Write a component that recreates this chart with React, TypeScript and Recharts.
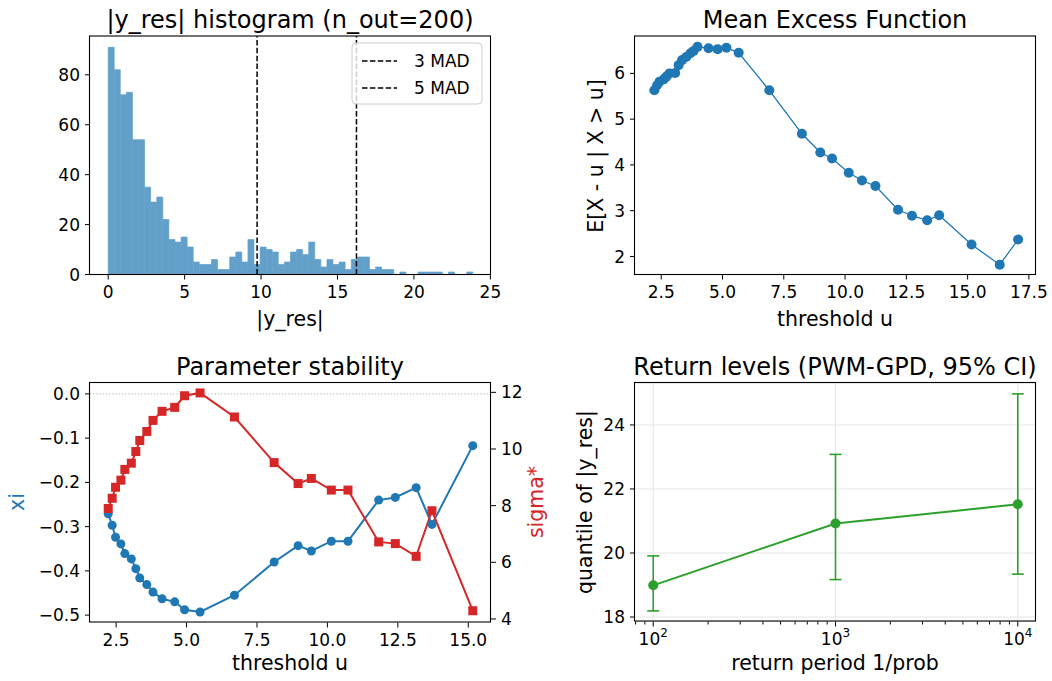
import React from 'react';
import {
  ComposedChart,
  Bar,
  Line,
  XAxis,
  YAxis,
  ReferenceLine,
  ErrorBar,
  CartesianGrid,
} from 'recharts';

const FONT = '"DejaVu Sans", Verdana, sans-serif';
const BLUE = '#1f77b4';
const BLUE_70 = '#62a0ca'; // tab:blue at alpha 0.7 on white
const RED = '#d62728';
const GREEN = '#2ca02c';

// |y_res| histogram: 60 equal bins starting at 0
const histBinWidth = 0.3975;
const histCounts = [
  91, 82, 72, 73, 54, 54, 35, 29, 31, 22, 14, 13, 15, 11, 5, 4, 4, 6, 2, 2,
  7, 9, 5, 14, 4, 11, 10, 9, 4, 5, 9, 10, 8, 13, 6, 3, 6, 4, 5, 2,
  6, 7, 7, 2, 3, 2, 2, 0, 1, 0, 0, 1, 1, 1, 1, 0, 1, 0, 0, 1,
];
const histXTicks = [0, 5, 10, 15, 20, 25];
const histYTicks = [0, 20, 40, 60, 80];
const madCuts = [9.74, 16.24];
const madNames = ['3 MAD', '5 MAD'];

// mean excess function
const meThresholds = [
  2.22, 2.33, 2.43, 2.6, 2.71, 2.84, 3.07, 3.21, 3.35, 3.52, 3.69, 3.82, 3.98, 4.43, 4.8, 5.16,
  5.66, 6.91, 8.24, 8.99, 9.47, 10.15, 10.69, 11.24, 12.16, 12.73, 13.35, 13.84, 15.16, 16.31, 17.06,
];
const meValues = [
  5.63, 5.74, 5.82, 5.87, 5.93, 6.0, 6.01, 6.18, 6.29, 6.36, 6.44, 6.49, 6.58, 6.55, 6.53, 6.56,
  6.45, 5.63, 4.68, 4.27, 4.14, 3.83, 3.66, 3.54, 3.02, 2.89, 2.79, 2.9, 2.26, 1.82, 2.37,
];
const meXTicks = [2.5, 5, 7.5, 10, 12.5, 15, 17.5];
const meYTicks = [2, 3, 4, 5, 6];

// parameter stability
const psThresholds = [
  2.22, 2.36, 2.48, 2.67, 2.81, 3.04, 3.2, 3.34, 3.59, 3.81, 4.13, 4.58, 4.93, 5.48, 6.7, 8.11,
  8.96, 9.43, 10.14, 10.73, 11.82, 12.41, 13.15, 13.71, 15.16,
];
const psXi = [
  -0.271, -0.297, -0.324, -0.339, -0.361, -0.373, -0.395, -0.416, -0.431, -0.448, -0.463, -0.47,
  -0.488, -0.493, -0.455, -0.38, -0.343, -0.355, -0.333, -0.333, -0.24, -0.234, -0.212, -0.295, -0.117,
];
const psSigma = [
  7.9, 8.26, 8.65, 8.9, 9.28, 9.5, 9.91, 10.3, 10.62, 11.01, 11.33, 11.47, 11.88, 11.98, 11.13, 9.52,
  8.78, 8.96, 8.55, 8.55, 6.72, 6.66, 6.21, 7.82, 4.29,
];
const psXTicks = [2.5, 5, 7.5, 10, 12.5, 15];
const psXiTicks = [0, -0.1, -0.2, -0.3, -0.4, -0.5];
const psSigmaTicks = [4, 6, 8, 10, 12];

// return levels
const rlPeriods = [100, 1000, 10000];
const rlLevels = [18.99, 20.92, 21.52];
const rlLower = [18.19, 19.17, 19.34];
const rlUpper = [19.91, 23.08, 24.97];
const rlMajorTicks = [100, 1000, 10000];
const rlMinorTicks = [
  80, 90, 200, 300, 400, 500, 600, 700, 800, 900,
  2000, 3000, 4000, 5000, 6000, 7000, 8000, 9000,
];
const rlYTicks = [18, 20, 22, 24];

// plot boxes (page pixels)
const BOX = {
  hist: { x: 89.5, y: 36, w: 401, h: 238.5 },
  me: { x: 634.5, y: 36, w: 401, h: 238.5 },
  ps: { x: 89.5, y: 382.5, w: 401, h: 239.5 },
  rl: { x: 634.5, y: 382.5, w: 401, h: 238.5 },
};

const YW = 80;
const RW = 60;
const RPAD = 24;
const MT = 6;
const XH = 40;
const TICK_SIZE = 5;
const X_MARGIN = 6;
const TICK = { fontSize: 17, fill: '#000', fontFamily: FONT };

const histData = histCounts.map((c, i) => ({ x: (i + 0.5) * histBinWidth, count: c }));
const meData = meThresholds.map((u, i) => ({ u, v: meValues[i] }));
const psData = psThresholds.map((u, i) => ({ u, xi: psXi[i], sigma: psSigma[i] }));
const rlData = rlPeriods.map((p, i) => ({
  p,
  level: rlLevels[i],
  ci: [rlLevels[i] - rlLower[i], rlUpper[i] - rlLevels[i]],
}));

const fmt1 = (v: number) => (v < 0 ? '\u2212' : '') + Math.abs(v).toFixed(1);

function Slot({ box, right = 0, children }: any) {
  const r = right || RPAD;
  return (
    <div style={{ position: 'absolute', left: box.x - YW, top: box.y - MT }}>
      {React.cloneElement(children, {
        width: YW + box.w + r,
        height: MT + box.h + XH,
        margin: { top: MT, right: right ? 0 : RPAD, bottom: 0, left: 0 },
      })}
    </div>
  );
}

function LogTick(props: any) {
  const { x, y, payload } = props;
  const v = payload.value;
  const major = rlMajorTicks.includes(v);
  const y0 = y - TICK_SIZE - X_MARGIN;
  return (
    <g>
      <line x1={x} x2={x} y1={y0} y2={y0 + (major ? TICK_SIZE : 3)} stroke="#000" strokeWidth={1} />
      {major && (
        <text x={x} y={y} dy="0.71em" textAnchor="middle" fontSize={17} fontFamily={FONT} fill="#000">
          10
          <tspan dy={-8} fontSize={12}>
            {Math.round(Math.log10(v))}
          </tspan>
        </text>
      )}
    </g>
  );
}

const SquareDot = (p: any) => (
  <rect key={`sq-${p.index}`} x={p.cx - 4.5} y={p.cy - 4.5} width={9} height={9} fill={RED} />
);

const axisCommon = {
  axisLine: false,
  tickSize: TICK_SIZE,
  tick: TICK,
  interval: 0 as const,
  allowDataOverflow: true,
  tickLine: { stroke: '#000' },
};

export default function App() {
  return (
    <div style={{ position: 'absolute', left: 0, top: 0, width: 1052, height: 681, background: '#fff' }}>
      {/* histogram */}
      <Slot box={BOX.hist}>
        <ComposedChart data={histData} barCategoryGap={0} barGap={0}>
          <XAxis
            {...axisCommon}
            dataKey="x"
            type="number"
            domain={[-1.19, 25.04]}
            ticks={histXTicks}
            height={XH}
            tickMargin={X_MARGIN}
          />
          <YAxis {...axisCommon} type="number" domain={[0, 95.55]} ticks={histYTicks} width={YW} tickMargin={5} />
          <Bar dataKey="count" fill={BLUE_70} stroke={BLUE_70} strokeWidth={0.7} isAnimationActive={false} />
          {madCuts.map((c) => (
            <ReferenceLine key={c} x={c} stroke="#000" strokeWidth={1.5} strokeDasharray="5.5 2.4" />
          ))}
        </ComposedChart>
      </Slot>

      {/* mean excess */}
      <Slot box={BOX.me}>
        <ComposedChart data={meData}>
          <XAxis
            {...axisCommon}
            dataKey="u"
            type="number"
            domain={[1.43, 17.79]}
            ticks={meXTicks}
            tickFormatter={fmt1}
            height={XH}
            tickMargin={X_MARGIN}
          />
          <YAxis {...axisCommon} type="number" domain={[1.606, 6.817]} ticks={meYTicks} width={YW} tickMargin={5} />
          <Line
            dataKey="v"
            stroke={BLUE}
            strokeWidth={1.3}
            dot={{ r: 5, fill: BLUE, stroke: 'none' }}
            activeDot={false}
            isAnimationActive={false}
          />
        </ComposedChart>
      </Slot>

      {/* parameter stability */}
      <Slot box={BOX.ps} right={RW}>
        <ComposedChart data={psData}>
          <XAxis
            {...axisCommon}
            dataKey="u"
            type="number"
            domain={[1.573, 15.807]}
            ticks={psXTicks}
            tickFormatter={fmt1}
            height={XH}
            tickMargin={X_MARGIN}
          />
          <YAxis
            {...axisCommon}
            yAxisId="xi"
            type="number"
            domain={[-0.5167, 0.0246]}
            ticks={psXiTicks}
            tickFormatter={fmt1}
            width={YW}
            tickMargin={5}
          />
          <YAxis
            {...axisCommon}
            yAxisId="sig"
            orientation="right"
            type="number"
            domain={[3.875, 12.33]}
            ticks={psSigmaTicks}
            width={RW}
            tickMargin={5}
          />
          <ReferenceLine yAxisId="xi" y={0} stroke="#999" strokeWidth={0.8} strokeDasharray="1.2 2" />
          <Line
            yAxisId="xi"
            dataKey="xi"
            stroke={BLUE}
            strokeWidth={2}
            dot={{ r: 4.5, fill: BLUE, stroke: 'none' }}
            activeDot={false}
            isAnimationActive={false}
          />
          <Line
            yAxisId="sig"
            dataKey="sigma"
            stroke={RED}
            strokeWidth={2}
            dot={SquareDot}
            activeDot={false}
            isAnimationActive={false}
          />
        </ComposedChart>
      </Slot>

      {/* return levels */}
      <Slot box={BOX.rl}>
        <ComposedChart data={rlData}>
          <CartesianGrid stroke="#e5e5e5" strokeWidth={1} verticalValues={rlMajorTicks} />
          <XAxis
            {...axisCommon}
            dataKey="p"
            type="number"
            scale="log"
            domain={[79.43, 12589.25]}
            ticks={[...rlMajorTicks, ...rlMinorTicks]}
            tick={<LogTick />}
            tickLine={false}
            height={XH}
            tickMargin={X_MARGIN}
          />
          <YAxis {...axisCommon} type="number" domain={[17.86, 25.31]} ticks={rlYTicks} width={YW} tickMargin={5} />
          <Line
            dataKey="level"
            stroke={GREEN}
            strokeWidth={2}
            dot={{ r: 5, fill: GREEN, stroke: 'none' }}
            activeDot={false}
            isAnimationActive={false}
          >
            <ErrorBar dataKey="ci" direction="y" width={6} stroke={GREEN} strokeWidth={1.6} />
          </Line>
        </ComposedChart>
      </Slot>

      {/* frames, titles, labels, legend */}
      <svg
        width={1052}
        height={681}
        style={{ position: 'absolute', left: 0, top: 0, pointerEvents: 'none' }}
        fontFamily={FONT}
      >
        {Object.values(BOX).map((b, i) => (
          <rect key={i} x={b.x} y={b.y} width={b.w} height={b.h} fill="none" stroke="#000" strokeWidth={1.1} />
        ))}

        <g fontSize={24} textAnchor="middle" fill="#000">
          <text x={290} y={28}>|y_res| histogram (n_out=200)</text>
          <text x={835} y={28}>Mean Excess Function</text>
          <text x={290} y={374.5}>Parameter stability</text>
          <text x={835} y={374.5}>Return levels (PWM-GPD, 95% CI)</text>
        </g>

        <g fontSize={20.5} textAnchor="middle" fill="#000">
          <text x={290} y={326}>|y_res|</text>
          <text x={835} y={326}>threshold u</text>
          <text x={290} y={670}>threshold u</text>
          <text x={835} y={670}>return period 1/prob</text>
          <text transform="translate(603,156) rotate(-90)">E[X - u | X &gt; u]</text>
          <text transform="translate(592,502) rotate(-90)">quantile of |y_res|</text>
          <text transform="translate(23.5,502) rotate(-90)" fill={BLUE}>xi</text>
          <text transform="translate(543,502) rotate(-90)" fill={RED}>sigma*</text>
        </g>

        <rect x={352} y={43} width={130} height={61} rx={4} fill="#fff" fillOpacity={0.8} stroke="#cccccc" />
        {madNames.map((name, i) => (
          <g key={name}>
            <line
              x1={362}
              x2={397}
              y1={61 + i * 27}
              y2={61 + i * 27}
              stroke="#000"
              strokeWidth={1.5}
              strokeDasharray="5.5 2.4"
            />
            <text x={414} y={61 + i * 27} dominantBaseline="central" fontSize={17} fill="#000">
              {name}
            </text>
          </g>
        ))}
      </svg>
    </div>
  );
}
